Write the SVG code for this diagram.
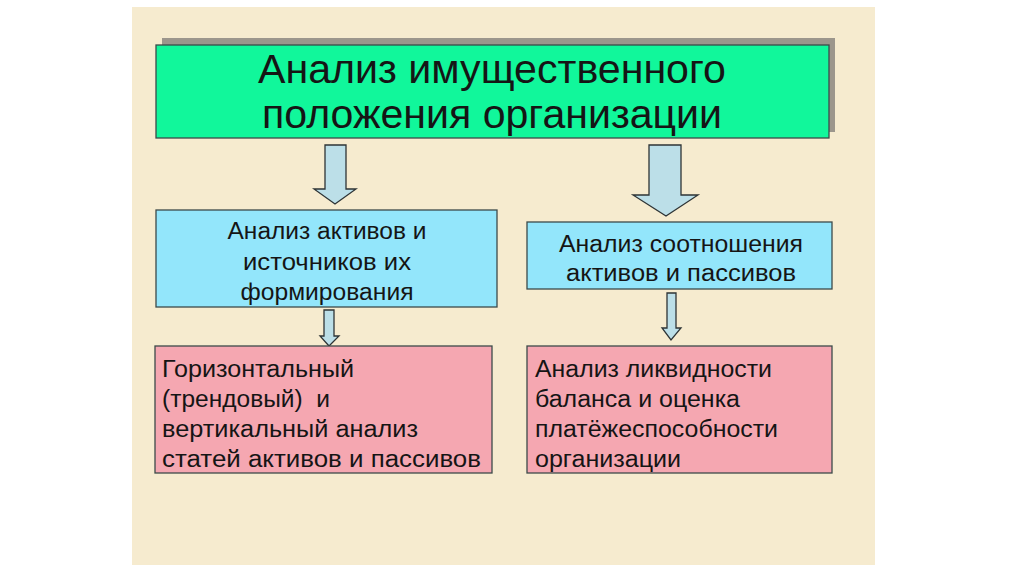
<svg xmlns="http://www.w3.org/2000/svg" width="1024" height="574" viewBox="0 0 1024 574">
<style>
.t{font-family:"Liberation Sans",Arial,sans-serif;fill:#151515}
.title{font-size:40px}
.mid{font-size:23.5px}
.box{stroke:#3c4a4a;stroke-width:1.3}
.arrow{fill:#bcdfe8;stroke:#2e3436;stroke-width:1.3;stroke-linejoin:miter}
</style>
<rect x="0" y="0" width="1024" height="574" fill="#ffffff"/>
<rect x="132" y="7" width="743" height="558" fill="#f6ebcf"/>
<g id="connectors">
<path class="arrow" d="M325,145 H346 V189 H356 L335,204 L314,189 H325 Z"/>
<path class="arrow" d="M649,145 H681 V195 H698 L666,216 L633,195 H649 Z"/>
<path class="arrow" d="M324,310 H334 V336 H339 L329,346 L320,336 H324 Z"/>
<path class="arrow" d="M667,293 H676 V328 H681 L671,340 L662,328 H667 Z"/>
</g>
<g id="title">
<rect x="162" y="38" width="673" height="94" fill="#9c968c"/>
<rect class="box" x="156" y="45" width="673" height="93" fill="#11f79b" stroke="#1d3b2c"/>
<text class="t title" x="492" y="83" text-anchor="middle" textLength="468" lengthAdjust="spacingAndGlyphs">Анализ имущественного</text>
<text class="t title" x="492" y="128" text-anchor="middle" textLength="460" lengthAdjust="spacingAndGlyphs">положения организации</text>
</g>
<g id="assets">
<rect class="box" x="156" y="210" width="341" height="97" fill="#93e6fb"/>
<text class="t mid" x="327" y="239" text-anchor="middle" textLength="199" lengthAdjust="spacingAndGlyphs">Анализ активов и</text>
<text class="t mid" x="327" y="270" text-anchor="middle" textLength="168" lengthAdjust="spacingAndGlyphs">источников их</text>
<text class="t mid" x="327" y="300" text-anchor="middle" textLength="173" lengthAdjust="spacingAndGlyphs">формирования</text>
</g>
<g id="ratio">
<rect class="box" x="527" y="222" width="305" height="67" fill="#93e6fb"/>
<text class="t mid" x="681" y="252" text-anchor="middle" textLength="244" lengthAdjust="spacingAndGlyphs">Анализ соотношения</text>
<text class="t mid" x="681" y="281" text-anchor="middle" textLength="230" lengthAdjust="spacingAndGlyphs">активов и пассивов</text>
</g>
<g id="horizontal">
<rect class="box" x="155" y="346" width="337" height="127" fill="#f5a7b1" stroke="#5a4040"/>
<text class="t mid" x="162" y="377" textLength="192" lengthAdjust="spacingAndGlyphs">Горизонтальный</text>
<text class="t mid" x="162" y="407" textLength="168" lengthAdjust="spacingAndGlyphs" xml:space="preserve">(трендовый)  и</text>
<text class="t mid" x="162" y="437" textLength="256" lengthAdjust="spacingAndGlyphs">вертикальный анализ</text>
<text class="t mid" x="162" y="467" textLength="319" lengthAdjust="spacingAndGlyphs">статей активов и пассивов</text>
</g>
<g id="liquidity">
<rect class="box" x="527" y="346" width="305" height="127" fill="#f5a7b1" stroke="#5a4040"/>
<text class="t mid" x="535" y="377" textLength="237" lengthAdjust="spacingAndGlyphs">Анализ ликвидности</text>
<text class="t mid" x="535" y="407" textLength="205" lengthAdjust="spacingAndGlyphs">баланса и оценка</text>
<text class="t mid" x="535" y="437" textLength="243" lengthAdjust="spacingAndGlyphs">платёжеспособности</text>
<text class="t mid" x="535" y="467" textLength="146" lengthAdjust="spacingAndGlyphs">организации</text>
</g>
</svg>
